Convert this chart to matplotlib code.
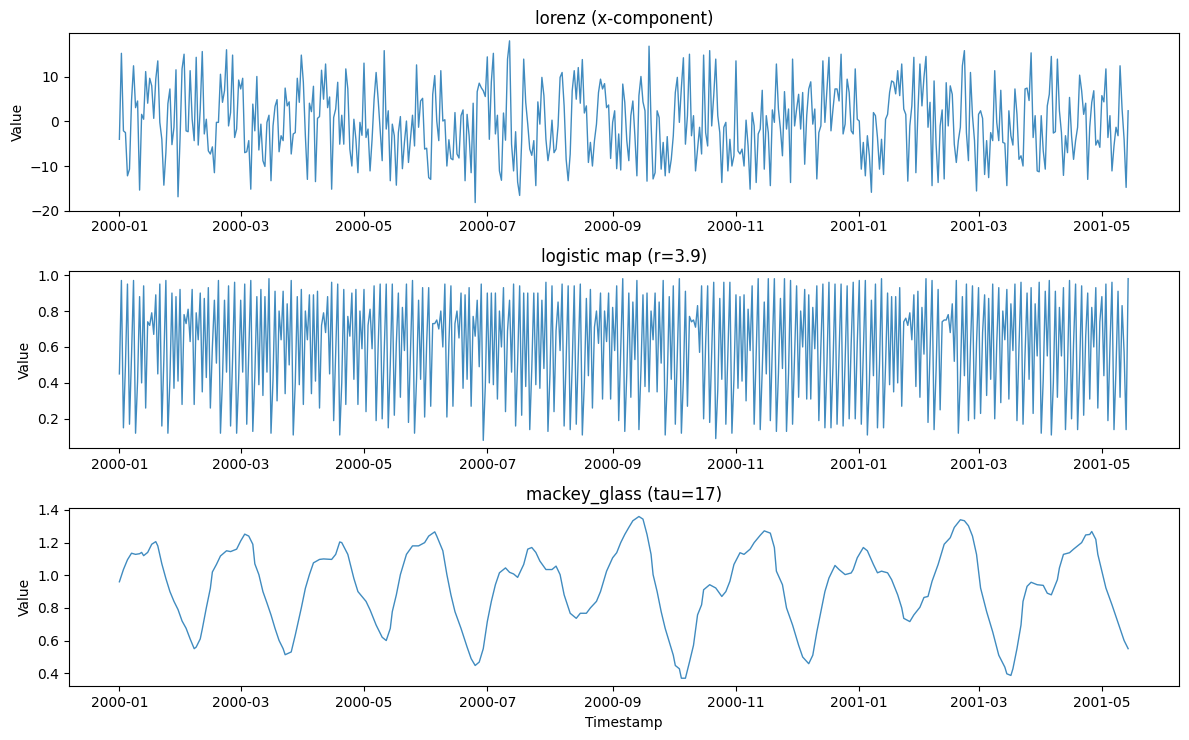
import numpy as np
import pandas as pd
import matplotlib
matplotlib.use("Agg")
import matplotlib.pyplot as plt

start = "2000-01-01"

# lorenz x-component, one value per day
lorenz = [
    -4.0, 15.3, -2.1, -2.5, -12.2, -10.7, 4.6, 12.5, 3.1, 4.6,
    -15.4, 1.6, 0.5, 11.2, 4.1, 9.7, 8.0, 0.7, 9.5, 13.6,
    -0.2, -4.0, -14.3, -7.0, 4.0, 7.3, -5.2, -1.3, 11.6, -16.9,
    -4.0, 11.8, 15.1, -2.1, -2.3, 11.4, 0.5, -4.3, 14.4, -5.3,
    2.8, 15.7, -2.8, 0.5, -6.6, -7.3, -5.7, -11.5, -0.2, -0.2,
    10.6, 4.3, 6.9, 16.1, -1.0, 2.0, 14.9, -3.6, -1.7, 9.3,
    7.3, 9.7, -7.0, -6.8, -4.3, -15.2, 3.9, -2.1, 10.1, -6.4,
    -0.6, -8.8, -10.1, -0.2, 1.4, -13.3, -1.0, 3.4, 4.9, -6.8,
    -3.2, -4.3, 7.5, 3.5, 4.4, -7.3, -2.8, -2.5, 9.7, 4.3,
    14.9, 8.8, -3.2, -13.0, 4.1, 2.2, 7.9, -13.5, 0.7, 1.1,
    11.5, 5.0, 12.9, 3.1, 5.5, -15.2, 0.9, 2.8, 8.8, -5.1,
    1.4, -5.1, 11.8, 7.3, -6.2, -10.0, 0.5, -4.0, -11.5, -0.2,
    -3.1, 13.1, -3.6, -1.7,
    -11.1, -4.0, 5.0, 11.0, 5.0, -2.0, -8.8, 15.9, -1.7, 2.4,
    -13.3, -0.6, -3.2, -14.3, -2.5, 1.1, -10.6, -4.7, 0.1, -9.2,
    -4.0, 1.4, -5.5, 12.7, -1.3, 4.6, 5.2, -6.2, -6.0, -12.6,
    -13.0, 6.1, 10.3, 0.1, -4.3, 11.4, 0.1, 0.4, -10.0, -4.1,
    -8.3, -8.6, 2.0, -7.3, -8.2, 1.3, 2.6, -13.3, 1.6, -3.2,
    -11.5, 4.1, -18.2, 6.7, 8.6, 7.6, 6.9, 5.6, 14.5, -4.0,
    8.9, 15.3, -2.8, 1.4, -11.1, -13.2, 1.9, -4.2, 14.0, 18.1,
    -5.1, -11.1, -2.3, -13.6, -16.6, -4.3, 14.0, 4.3, -0.6, -6.2,
    -7.6, -4.3, -14.4, 4.4, -0.6, 9.9, 5.8, -4.0, -8.8, -5.8,
    0.3, -7.0, -6.2, -1.0, 9.9, 11.0, 3.5, -8.5, -13.3, -7.3,
    6.9, 11.4, 5.0, 12.1, 4.1, 13.9, 1.9, 3.5, -9.2, -4.7,
    -10.0, -4.3, -0.6, 6.5, 9.5, 7.3, 8.5, 3.1, 3.7, -8.3,
    -0.2, 2.4, -10.6, -2.8, -10.9, 8.4, 4.3, -4.3, -8.8, 1.3,
    4.6, -3.2, -12.2, 5.8,
    10.1, 4.4, 2.4, -13.4, 16.9, -0.2, -12.9, -11.5, 2.4, 0.9,
    -10.7, -4.7, -12.2, -3.4, -11.5, -8.5, -3.2, 6.5, 9.9, -0.2,
    7.6, 14.3, -5.1, 1.3, 15.1, -3.2, 1.3, -11.1, -6.2, -1.3,
    -7.3, 14.9, -2.5, -5.5, 15.9, -1.0, 5.8, 14.0, 1.3, -2.5,
    -13.7, -1.3, -0.2, -11.1, -4.0, -10.0, -7.7, 13.6, -6.6, -7.3,
    -6.2, -10.0, 0.3, -5.5, -15.2, 2.0, -1.0, -13.7, -2.8, -1.7,
    7.0, -10.7, 1.3, -2.5, -14.4, 2.6, -0.2, 12.9, 2.8, -1.7,
    -7.7, 6.7, -1.7, 2.8, -13.7, 14.0, -1.0, 2.8, 6.1, -1.7,
    6.5, -9.6, 1.3, 7.3, 8.9, -0.6, 2.8, -12.9, -2.5, -1.0,
    13.6, -0.2, 7.3, 14.4, -2.1, 2.8, 7.3, 7.3, 4.6, 15.1,
    -2.8, -0.6, 9.5, 6.5, -2.1, -2.8, 11.8, 0.5, 0.1, -10.7,
    -4.7, -12.2, -3.2, -7.7, -15.9, 2.0, 1.3, -3.6, -10.7, -4.0,
    -11.9, 0.5, 1.6, 6.5, 9.1, 8.8, 6.2, 11.4, 5.8,
    12.9, 2.8, 1.6, -13.4, -1.0, 3.5, 14.4, -11.5, 2.0, 12.9,
    3.5, 9.9, 14.6, -1.3, 4.3, -14.4, 9.1, -5.1, -13.7, -1.0,
    2.6, -12.9, 8.7, -1.0, 8.0, 6.1, -5.1, -9.2, -4.3, -1.3,
    12.5, 15.9, -2.5, -8.8, 11.0, 1.3, -4.3, -15.6, 1.6, 2.4,
    0.7, -11.9, -4.3, -12.6, -2.5, -4.3, 11.4, -0.2, -4.3, 7.0,
    -4.7, -4.9, -14.4, 2.4, -3.2, -5.3, 7.3, 1.6, -8.5, -7.7,
    -10.0, 7.3, 7.5, 4.7, 15.4, -3.6, 1.3, -11.1, -11.3, 1.3,
    -6.6, -10.7, 3.5, 6.1, 14.6, -2.6, -2.3, 14.0, 2.4, -2.5,
    -12.1, -3.2, -7.0, 5.4, -3.2, -8.5, -4.3, -1.3, 10.4, 6.9,
    1.6, 4.1, -13.0, -1.3, 4.3, 6.9, -5.3, -4.2, -5.8, 5.8,
    4.4, 11.8, -3.6, 1.3, -11.1, -5.5, -1.3, -3.2, 12.5, 2.8,
    -4.0, -14.8, 2.4,
]

# logistic map (r=3.9), one value per day
logistic = [
    0.45, 0.97, 0.15, 0.50, 0.95, 0.17, 0.55, 0.97, 0.12, 0.41,
    0.88, 0.40, 0.94, 0.26, 0.74, 0.72, 0.79, 0.67, 0.89, 0.45,
    0.95, 0.16, 0.53, 0.97, 0.12, 0.42, 0.90, 0.37, 0.88, 0.41,
    0.92, 0.28, 0.78, 0.73, 0.81, 0.63, 0.92, 0.28, 0.79, 0.64,
    0.90, 0.35, 0.87, 0.43, 0.93, 0.26, 0.60, 0.86, 0.51, 0.97,
    0.12, 0.42, 0.86, 0.46, 0.94, 0.16, 0.53, 0.96, 0.12, 0.42,
    0.86, 0.46, 0.95, 0.17, 0.56, 0.97, 0.13, 0.44, 0.88, 0.39,
    0.92, 0.33, 0.88, 0.46, 0.98, 0.12, 0.42, 0.91, 0.30, 0.80,
    0.64, 0.91, 0.34, 0.84, 0.50, 0.97, 0.11, 0.40, 0.88, 0.39,
    0.92, 0.28, 0.80, 0.64, 0.89, 0.34, 0.89, 0.41, 0.91, 0.26,
    0.72, 0.79, 0.68, 0.88, 0.45, 0.96, 0.19, 0.58, 0.95, 0.11,
    0.40, 0.92, 0.28, 0.77, 0.66, 0.90, 0.42, 0.92, 0.28, 0.80,
    0.59, 0.92, 0.24, 0.72, 0.81, 0.59, 0.94, 0.19, 0.60, 0.95,
    0.20, 0.58, 0.95, 0.15, 0.50, 0.95, 0.22, 0.62, 0.90, 0.32,
    0.82, 0.58, 0.95, 0.18, 0.58, 0.97, 0.12, 0.42, 0.86, 0.42,
    0.93, 0.21, 0.62, 0.93, 0.27, 0.73, 0.73, 0.75, 0.70, 0.80,
    0.60, 0.95, 0.21, 0.62, 0.94, 0.27, 0.73, 0.80, 0.65, 0.90,
    0.37, 0.89, 0.42, 0.93, 0.27, 0.77, 0.66, 0.86, 0.49, 0.95,
    0.08, 0.38, 0.90, 0.40, 0.90, 0.39, 0.90, 0.31, 0.80, 0.60,
    0.93, 0.24, 0.69, 0.86, 0.46, 0.95, 0.16, 0.52, 0.94, 0.22,
    0.90, 0.38, 0.90, 0.14, 0.48, 0.90, 0.39, 0.90, 0.37, 0.86,
    0.48, 0.96, 0.13, 0.45, 0.94, 0.24, 0.69, 0.85, 0.58, 0.95,
    0.16, 0.53, 0.94, 0.14, 0.50, 0.94, 0.17, 0.56, 0.95, 0.11,
    0.40, 0.87, 0.44, 0.92, 0.26, 0.71, 0.80, 0.62, 0.90, 0.31,
    0.80, 0.63, 0.90, 0.31, 0.82, 0.58, 0.94, 0.19, 0.58, 0.98,
    0.13, 0.45, 0.90, 0.32, 0.85, 0.53, 0.97, 0.14, 0.47, 0.89,
    0.38, 0.90, 0.35, 0.80, 0.64, 0.90, 0.35, 0.85, 0.51, 0.97,
    0.11, 0.40, 0.88, 0.42, 0.94, 0.17, 0.56, 0.98, 0.12, 0.42,
    0.91, 0.27, 0.77, 0.74, 0.75, 0.71, 0.83, 0.57, 0.94, 0.20,
    0.62, 0.94, 0.18, 0.58, 0.96, 0.09, 0.36, 0.87, 0.42, 0.96,
    0.17, 0.56, 0.96, 0.12, 0.42, 0.89, 0.37, 0.88, 0.41, 0.89,
    0.30, 0.81, 0.58, 0.94, 0.17, 0.56, 0.98, 0.14, 0.47, 0.85,
    0.45, 0.98, 0.19, 0.60, 0.98, 0.13, 0.45, 0.87, 0.48, 0.98,
    0.13, 0.45, 0.97, 0.17, 0.56, 0.94, 0.32, 0.80, 0.60, 0.92,
    0.31, 0.89, 0.31, 0.82, 0.59, 0.94, 0.19, 0.60, 0.95, 0.15,
    0.50, 0.96, 0.15, 0.50, 0.95, 0.17, 0.56, 0.95, 0.16, 0.52,
    0.94, 0.20, 0.62, 0.96, 0.20, 0.62, 0.97, 0.17, 0.56, 0.97,
    0.11, 0.40, 0.86, 0.44, 0.95, 0.15, 0.50, 0.98, 0.15, 0.50,
    0.90, 0.39, 0.88, 0.35, 0.88, 0.40, 0.93, 0.27, 0.74, 0.76,
    0.72, 0.79, 0.64, 0.89, 0.38, 0.91, 0.32, 0.82, 0.56, 0.98,
    0.18, 0.58, 0.97, 0.14, 0.47, 0.92, 0.25, 0.74, 0.75, 0.75,
    0.78, 0.68, 0.84, 0.52, 0.97, 0.12, 0.42, 0.88, 0.44, 0.95,
    0.19, 0.60, 0.94, 0.20, 0.62, 0.93, 0.23, 0.68, 0.89, 0.33,
    0.87, 0.42, 0.95, 0.20, 0.62, 0.93, 0.29, 0.80, 0.64, 0.92,
    0.31, 0.84, 0.58, 0.95, 0.19, 0.60, 0.96, 0.17, 0.56, 0.90,
    0.42, 0.93, 0.23, 0.84, 0.55, 0.96, 0.12, 0.42, 0.91, 0.55,
    0.97, 0.11, 0.40, 0.91, 0.32, 0.82, 0.55, 0.93, 0.14, 0.48,
    0.97, 0.20, 0.62, 0.95, 0.14, 0.48, 0.94, 0.22, 0.66, 0.90,
    0.31, 0.82, 0.60, 0.93, 0.26, 0.74, 0.88, 0.44, 0.95, 0.19,
    0.60, 0.96, 0.14, 0.48, 0.91, 0.32, 0.83, 0.57, 0.14, 0.98,
]

# mackey-glass (tau=17): day offset from start and value
mg_day = [
    0, 2, 4, 6, 8, 10, 11, 12, 14, 16, 18, 19, 21, 23, 25, 27, 29, 31, 33, 35,
    37, 38, 40, 41, 43, 45, 46, 48, 50, 53, 55, 58, 60, 62, 64, 66, 67, 69, 71, 73,
    75, 77, 79, 81, 82, 85, 87, 90, 92, 94, 96, 99, 101, 105, 107, 109, 110, 113, 116, 118,
    122, 124, 127, 130, 132, 134, 135, 137, 139, 142, 145, 148, 151, 153, 156, 157, 160, 162, 164, 166,
    169, 172, 174, 176, 178, 180, 182, 184, 186, 188, 191, 193, 195, 197, 200, 202, 204, 206, 208, 211,
    214, 216, 218, 220, 223, 226, 228, 231, 233, 236, 238, 241, 244, 246, 248, 250, 252, 254, 257, 259,
    261, 263, 264, 266, 268, 270, 272, 274, 275, 277, 278, 280, 282, 284, 286, 288, 289, 292, 295, 298,
    300, 302, 304, 307, 309, 312, 314, 317, 319, 322, 324, 325, 328, 330, 333, 336, 338, 341, 343, 345,
    347, 349, 351, 354, 356, 359, 362, 363, 365, 368, 370, 373, 375, 377, 380, 382, 385, 387, 388, 391,
    393, 396, 398, 400, 402, 405, 408, 411, 413, 416, 418, 420, 422, 424, 426, 429, 432, 435, 438, 439,
    441, 442, 444, 446, 447, 449, 451, 454, 457, 459, 461, 464, 465, 467, 470, 472, 474, 476, 478, 480,
    481, 483, 484, 486, 488, 491, 493, 495, 497, 499,
]
mg_value = [
    0.96, 1.035, 1.095, 1.135, 1.128, 1.132, 1.14, 1.12, 1.14, 1.19, 1.206, 1.18, 1.07, 0.98, 0.90, 0.84, 0.79, 0.72, 0.675, 0.61,
    0.55, 0.56, 0.61, 0.67, 0.80, 0.92, 1.02, 1.066, 1.118, 1.15, 1.145, 1.16, 1.21, 1.252, 1.24, 1.19, 1.07, 1.004, 0.90, 0.83,
    0.757, 0.674, 0.60, 0.55, 0.513, 0.53, 0.633, 0.80, 0.92, 1.004, 1.076, 1.097, 1.10, 1.097, 1.128, 1.204, 1.20, 1.128, 0.98, 0.90,
    0.84, 0.788, 0.695, 0.62, 0.60, 0.674, 0.777, 0.88, 1.004, 1.128, 1.18, 1.18, 1.20, 1.24, 1.266, 1.24, 1.15, 1.004, 0.88, 0.777,
    0.674, 0.56, 0.489, 0.447, 0.468, 0.55, 0.716, 0.84, 0.942, 1.015, 1.045, 1.018, 1.008, 0.987, 1.066, 1.16, 1.17, 1.14, 1.087, 1.035,
    1.035, 1.056, 1.004, 0.88, 0.767, 0.736, 0.767, 0.767, 0.80, 0.84, 0.90, 1.025, 1.107, 1.138, 1.20, 1.25, 1.293, 1.334, 1.36, 1.344,
    1.25, 1.128, 1.004, 0.90, 0.777, 0.674, 0.592, 0.51, 0.447, 0.427, 0.369, 0.369, 0.468, 0.571, 0.757, 0.819, 0.911, 0.942, 0.922, 0.87,
    0.90, 0.963, 1.066, 1.138, 1.128, 1.16, 1.20, 1.245, 1.272, 1.258, 1.17, 1.025, 0.942, 0.80, 0.695, 0.571, 0.499, 0.458, 0.51, 0.653,
    0.777, 0.90, 0.983, 1.06, 1.035, 1.004, 1.014, 1.035, 1.107, 1.17, 1.15, 1.066, 1.015, 1.025, 1.015, 0.973, 0.88, 0.80, 0.736, 0.716,
    0.757, 0.804, 0.864, 0.87, 0.963, 1.066, 1.19, 1.23, 1.293, 1.34, 1.334, 1.303, 1.24, 1.128, 0.922, 0.777, 0.653, 0.51, 0.437, 0.396,
    0.386, 0.427, 0.55, 0.695, 0.84, 0.932, 0.957, 0.942, 0.938, 0.89, 0.88, 0.973, 1.045, 1.128, 1.138, 1.16, 1.18, 1.20, 1.247, 1.25,
    1.268, 1.22, 1.128, 1.025, 0.922, 0.819, 0.746, 0.674, 0.60, 0.55,
]

titles = ["lorenz (x-component)", "logistic map (r=3.9)", "mackey_glass (tau=17)"]

t0 = pd.Timestamp(start)
lorenz_t = pd.date_range(start, periods=len(lorenz), freq="D")
logistic_t = pd.date_range(start, periods=len(logistic), freq="D")
mg_t = t0 + pd.to_timedelta(mg_day, unit="D")

fig, axes = plt.subplots(3, 1, figsize=(11.89, 7.4), dpi=100)

series = [(lorenz_t, lorenz), (logistic_t, logistic), (mg_t, mg_value)]
for ax, (t, v), title in zip(axes, series, titles):
    ax.plot(t, v, color="C0", linewidth=1, alpha=0.85)
    ax.set_title(title)
    ax.set_ylabel("Value")

axes[-1].set_xlabel("Timestamp")

plt.tight_layout(pad=0.75, h_pad=1.0)
plt.savefig("out.png")
